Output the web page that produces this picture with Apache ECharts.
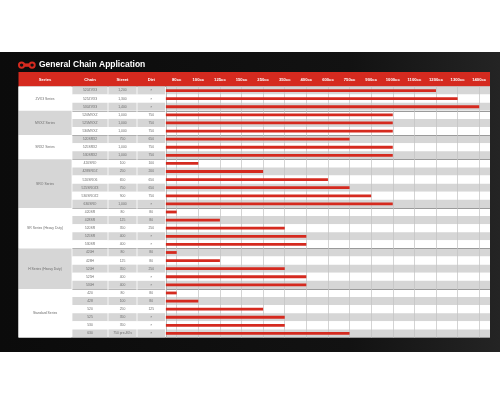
<!DOCTYPE html>
<html><head><meta charset="utf-8">
<script src="https://cdn.jsdelivr.net/npm/echarts@6/dist/echarts.min.js"></script>
<style>html,body{margin:0;padding:0;background:#fff}#c{width:500px;height:400px}</style>
</head><body><div id="c"></div>
<script>
const titleText = 'General Chain Application';
const headers = ['Series', 'Chain', 'Street', 'Dirt'];
const ccLabels = ['80cc','100cc','125cc','150cc','250cc','350cc','400cc','600cc','750cc','900cc','1000cc','1100cc','1200cc','1300cc','1400cc'];
const groupNames = ['ZVX3 Series','MVXZ Series','SRX2 Series','SRO Series','SR Series (Heavy Duty)','H Series (Heavy Duty)','Standard Series'];
const groupSizes = [3, 3, 3, 6, 5, 5, 6];
const chains = ['520ZVX3','525ZVX3','530ZVX3','520MVXZ','525MVXZ','530MVXZ','520SRX2','525SRX2','530SRX2','420SRO','428SROZ','520SRO6','525SROZ3','530SROZ2','630SRO','420SR','428SR','520SR','525SR','530SR','420H','428H','520H','525H','530H','420','428','520','525','530','630'];
const street = ['1,200','1,300','1,400','1,000','1,000','1,000','750','1,000','1,000','100','250','650','750','900','1,000','80','125','350','400','400','80','125','350','400','400','80','100','250','350','350',"750 pre-80's"];
const dirt = ['×','×','×','750','750','750','650','750','750','100','200','650','650','750','×','80','80','250','×','×','80','80','250','×','×','80','80','125','×','×','×'];
const barReach = ['1200cc','1300cc','1400cc','1000cc','1000cc','1000cc','750cc','1000cc','1000cc','100cc','250cc','600cc','750cc','900cc','1000cc','80cc','125cc','350cc','400cc','400cc','80cc','125cc','350cc','400cc','400cc','80cc','100cc','250cc','350cc','350cc','750cc'];

const FONT = '"Liberation Sans", Arial, Helvetica, sans-serif';
const RED = '#d52a1f';
const STRIPE = ['#d6d6d6', '#ffffff'];
const TXT = '#6e6e6e';
const TOP = 86.5, H = 251, GAP = 0.8;
const colX = [18.5, 72, 108, 137, 165.5, 490];

const groupStart = [];
let acc = 0;
groupSizes.forEach(s => { groupStart.push(acc); acc += s; });
const groupData = groupSizes.map((s, i) => [groupStart[i], groupStart[i] + s, i]);
const boundaries = groupStart.slice(1);

const chart = echarts.init(document.getElementById('c'));

function colGrid(i) {
  const l = colX[i] + (i > 0 ? GAP / 2 : 0);
  const r = colX[i + 1] - (i < 4 ? GAP / 2 : 0);
  return { left: l, top: TOP, width: r - l, height: H };
}
const hidden = { show: false };
const groupLine = { show: true, interval: (i) => boundaries.indexOf(i) >= 0, lineStyle: { color: '#a3a3a3', width: 0.8 } };
const headerAxis = (gi, name) => ({
  gridIndex: gi, type: 'category', position: 'top', data: [name],
  axisLine: hidden, axisTick: hidden, splitLine: hidden,
  axisLabel: { interval: 0, color: '#fff', fontSize: 4.2, fontWeight: 'bold', margin: 5, fontFamily: FONT }
});
const textYAxis = (gi, arr) => ({
  gridIndex: gi, type: 'category', data: chains, inverse: true,
  axisLine: hidden, axisTick: hidden, splitLine: groupLine,
  axisLabel: { interval: 0, align: 'center', margin: -(colGrid(gi - 1).width / 2), color: TXT, fontSize: 3.4, fontFamily: FONT,
    formatter: (v, i) => arr[i] },
  splitArea: { show: true, interval: 0, areaStyle: { color: STRIPE } }
});

const option = {
  animation: false,
  backgroundColor: '#ffffff',
  title: { text: titleText, left: 39, top: 60, padding: 0,
    textStyle: { color: '#fff', fontSize: 8.5, fontWeight: 'bold', fontFamily: FONT } },
  graphic: [
    { type: 'rect', z: -10, left: 0, top: 52, shape: { width: 500, height: 300 },
      style: { fill: new echarts.graphic.LinearGradient(0, 0, 1, 0, [
        { offset: 0, color: '#0b0b0b' }, { offset: 0.7, color: '#121212' }, { offset: 1, color: '#242424' }]) } },
    { type: 'group', left: 18, top: 61.5, children: [
      { type: 'circle', shape: { cx: 4, cy: 3.5, r: 3.6 }, style: { fill: RED } },
      { type: 'circle', shape: { cx: 14.5, cy: 3.5, r: 3.6 }, style: { fill: RED } },
      { type: 'rect', shape: { x: 4, y: 1.8, width: 10.5, height: 3.4 }, style: { fill: RED } },
      { type: 'circle', shape: { cx: 4, cy: 3.5, r: 1.7 }, style: { fill: '#101010' } },
      { type: 'circle', shape: { cx: 14.5, cy: 3.5, r: 1.7 }, style: { fill: '#101010' } }
    ] }
  ],
  grid: [
    { left: 18.5, top: 72, width: 471.5, height: 14.5, show: true, backgroundColor: RED, borderWidth: 0 },
    colGrid(0), colGrid(1), colGrid(2), colGrid(3), colGrid(4),
    { left: 18.5, top: TOP, width: 471.5, height: H, show: true, backgroundColor: '#ffffff', borderWidth: 0 }
  ],
  xAxis: [
    { gridIndex: 0, type: 'value', show: false, min: 0, max: 1 },
    { gridIndex: 1, type: 'value', show: false, min: 0, max: 1 },
    headerAxis(1, headers[0]),
    headerAxis(2, headers[1]),
    headerAxis(3, headers[2]),
    headerAxis(4, headers[3]),
    { gridIndex: 5, type: 'value', show: false, min: 0, max: ccLabels.length },
    { gridIndex: 5, type: 'category', position: 'top', data: ccLabels, z: 1,
      axisLine: hidden, axisTick: hidden,
      axisLabel: { interval: 0, color: '#fff', fontSize: 4.2, fontWeight: 'bold', margin: 5, fontFamily: FONT },
      splitLine: { show: true, interval: 0, alignWithLabel: true, lineStyle: { color: '#c2c2c2', width: 0.7 } } },
    { gridIndex: 6, type: 'value', show: false, min: 0, max: 1 }
  ],
  yAxis: [
    { gridIndex: 0, type: 'value', show: false, min: 0, max: 1 },
    { gridIndex: 1, type: 'value', show: false, min: 0, max: chains.length, inverse: true },
    textYAxis(2, chains),
    textYAxis(3, street),
    textYAxis(4, dirt),
    { gridIndex: 5, type: 'category', data: chains, inverse: true, z: 0,
      axisLabel: hidden, axisTick: hidden,
      axisLine: { show: true, lineStyle: { color: '#a9a9a9', width: 0.8 } },
      splitArea: { show: true, interval: 0, areaStyle: { color: STRIPE } },
      splitLine: { show: true, interval: (i) => boundaries.indexOf(i) >= 0, lineStyle: { color: '#9a9a9a', width: 1 } } },
    { gridIndex: 6, type: 'value', show: false, min: 0, max: 1 }
  ],
  series: [
    { type: 'custom', xAxisIndex: 1, yAxisIndex: 1, silent: true, data: groupData,
      renderItem: (params, api) => {
        const p0 = api.coord([0, api.value(0)]);
        const p1 = api.coord([1, api.value(1)]);
        const idx = api.value(2);
        return { type: 'group', children: [
          { type: 'rect', shape: { x: p0[0], y: p0[1], width: p1[0] - p0[0], height: p1[1] - p0[1] },
            style: { fill: idx % 2 ? STRIPE[0] : STRIPE[1] } },
          { type: 'text', style: { text: groupNames[idx], x: (p0[0] + p1[0]) / 2, y: (p0[1] + p1[1]) / 2,
            align: 'center', verticalAlign: 'middle', fill: TXT, fontSize: 3.4, fontFamily: FONT } }
        ] };
      } },
    { type: 'bar', xAxisIndex: 6, yAxisIndex: 5, silent: true, barWidth: 2.8,
      data: barReach.map(c => ccLabels.indexOf(c) + 0.5),
      itemStyle: { color: RED } }
  ]
};
chart.setOption(option);
</script></body></html>
